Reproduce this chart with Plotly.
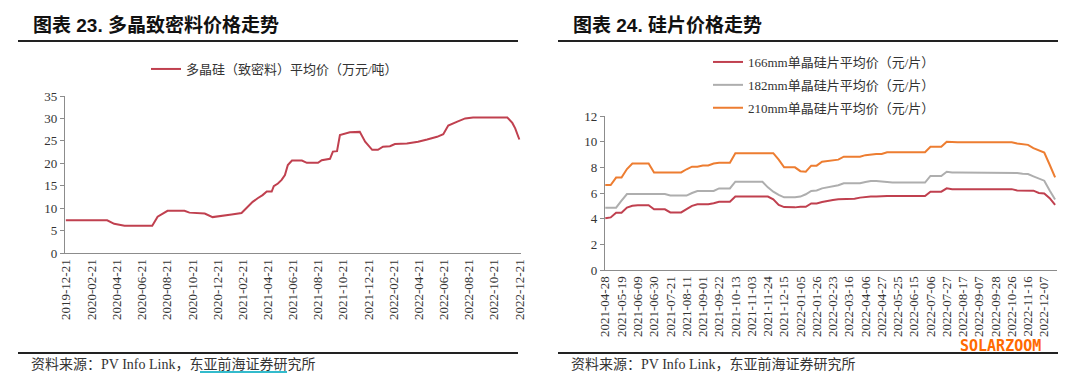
import pandas as pd
import plotly.graph_objects as go

# ---------------- Left chart data: polysilicon (dense) price, 万元/吨 ----------------
poly_dates = [
    "2019-12-20", "2020-03-29", "2020-04-15", "2020-05-10", "2020-07-16", "2020-07-29",
    "2020-08-22", "2020-10-02", "2020-10-14", "2020-11-20", "2020-12-09", "2021-01-07",
    "2021-01-24", "2021-02-17", "2021-03-04", "2021-03-16", "2021-03-28", "2021-04-09",
    "2021-04-19", "2021-05-01", "2021-05-06", "2021-05-16", "2021-05-25", "2021-06-02",
    "2021-06-09", "2021-06-19", "2021-07-13", "2021-07-25", "2021-08-21", "2021-08-30",
    "2021-09-19", "2021-09-26", "2021-10-06", "2021-10-13", "2021-11-06", "2021-11-30",
    "2021-12-13", "2021-12-30", "2022-01-13", "2022-01-25", "2022-02-11", "2022-02-23",
    "2022-03-24", "2022-04-20", "2022-05-12", "2022-06-05", "2022-06-20", "2022-07-02",
    "2022-07-24", "2022-08-12", "2022-08-31", "2022-11-22", "2022-12-04", "2022-12-11",
    "2022-12-21",
]
poly_price = [
    7.3, 7.3, 6.5, 6.1, 6.1, 8.1,
    9.4, 9.4, 9.0, 8.8, 8.0, 8.3,
    8.6, 8.9, 10.3, 11.4, 12.2, 12.9,
    13.7, 13.7, 14.9, 15.5, 16.3, 17.4,
    19.6, 20.6, 20.6, 20.1, 20.1, 20.7,
    21.0, 22.6, 22.7, 26.3, 26.9, 27.0,
    24.8, 23.0, 23.0, 23.7, 23.8, 24.3,
    24.4, 24.8, 25.3, 25.9, 26.5, 28.4,
    29.3, 30.0, 30.2, 30.2, 29.0, 27.8,
    25.3,
]
poly_ticks = [
    "2019-12-21", "2020-02-21", "2020-04-21", "2020-06-21", "2020-08-21", "2020-10-21",
    "2020-12-21", "2021-02-21", "2021-04-21", "2021-06-21", "2021-08-21", "2021-10-21",
    "2021-12-21", "2022-02-21", "2022-04-21", "2022-06-21", "2022-08-21", "2022-10-21",
    "2022-12-21",
]

# ---------------- Right chart data: wafer prices, 元/片 ----------------
skipped_weeks = ["2022-02-02", "2022-05-04", "2022-10-05"]
wafer_dates = [d.strftime("%Y-%m-%d") for d in pd.date_range("2021-04-28", "2022-12-21", freq="7D")
               if d.strftime("%Y-%m-%d") not in skipped_weeks]

w166 = [
    4.03, 4.10, 4.47, 4.47, 4.86, 5.00, 5.05, 5.05, 5.05, 4.73,
    4.73, 4.73, 4.49, 4.49, 4.49, 4.75, 5.00, 5.12, 5.12, 5.12,
    5.20, 5.32, 5.32, 5.32, 5.72, 5.72, 5.72, 5.72, 5.72, 5.72,
    5.72, 5.50, 5.07, 4.90, 4.88, 4.88, 4.93, 4.93, 5.19, 5.19,
    5.30, 5.40, 5.45, 5.51, 5.51, 5.51, 5.55, 5.64, 5.70, 5.72,
    5.72, 5.76, 5.77, 5.77, 5.77, 5.77, 5.77, 5.77, 5.77, 5.77,
    6.10, 6.10, 6.10, 6.36, 6.30, 6.30, 6.30, 6.30, 6.30, 6.30,
    6.30, 6.30, 6.30, 6.30, 6.30, 6.30, 6.20, 6.18, 6.18, 6.18,
    6.00, 5.97, 5.60, 5.07,
]
w182 = [
    4.86, 4.86, 4.86, 5.40, 5.92, 5.92, 5.92, 5.92, 5.92, 5.92,
    5.92, 5.92, 5.80, 5.80, 5.80, 5.80, 6.00, 6.16, 6.16, 6.16,
    6.16, 6.36, 6.36, 6.36, 6.88, 6.88, 6.88, 6.88, 6.88, 6.88,
    6.44, 6.10, 5.85, 5.66, 5.66, 5.66, 5.72, 5.90, 6.16, 6.20,
    6.36, 6.45, 6.55, 6.60, 6.76, 6.76, 6.76, 6.76, 6.85, 6.94,
    6.94, 6.90, 6.81, 6.81, 6.81, 6.81, 6.81, 6.81, 6.81, 6.81,
    7.33, 7.33, 7.33, 7.66, 7.60, 7.60, 7.60, 7.60, 7.60, 7.60,
    7.60, 7.60, 7.60, 7.60, 7.60, 7.60, 7.55, 7.50, 7.48, 7.30,
    7.15, 6.96, 6.20, 5.50,
]
w210 = [
    6.62, 6.62, 7.20, 7.20, 7.87, 8.30, 8.30, 8.30, 8.30, 7.60,
    7.60, 7.60, 7.60, 7.60, 7.60, 7.85, 8.05, 8.05, 8.15, 8.15,
    8.30, 8.35, 8.35, 8.35, 9.10, 9.10, 9.10, 9.10, 9.10, 9.10,
    9.10, 9.10, 8.60, 8.00, 8.00, 8.00, 7.70, 7.66, 8.13, 8.13,
    8.44, 8.48, 8.52, 8.60, 8.83, 8.83, 8.83, 8.83, 8.95, 9.01,
    9.03, 9.04, 9.17, 9.17, 9.17, 9.17, 9.17, 9.17, 9.17, 9.17,
    9.60, 9.60, 9.60, 10.00, 9.95, 9.95, 9.95, 9.95, 9.95, 9.95,
    9.95, 9.95, 9.95, 9.95, 9.95, 9.95, 9.85, 9.80, 9.75, 9.50,
    9.35, 9.15, 8.20, 7.22,
]
wafer_ticks = wafer_dates[::3]

left_yticks = [0, 5, 10, 15, 20, 25, 30, 35]
right_yticks = [0, 2, 4, 6, 8, 10, 12]

SERIF = "Liberation Serif, Noto Sans CJK SC, serif"
TEXT = "#333333"
AXIS = "#8c8c8c"

fig = go.Figure()
fig.add_trace(go.Scatter(
    x=poly_dates, y=poly_price, mode="lines", name="多晶硅（致密料）平均价（万元/吨）",
    line=dict(color="#C0404F", width=2), xaxis="x", yaxis="y", legend="legend"))
fig.add_trace(go.Scatter(
    x=wafer_dates, y=w166, mode="lines", name="166mm单晶硅片平均价（元/片）",
    line=dict(color="#C0404F", width=2), xaxis="x2", yaxis="y2", legend="legend2", legendgroup="a"))
fig.add_trace(go.Scatter(
    x=wafer_dates, y=w182, mode="lines", name="182mm单晶硅片平均价（元/片）",
    line=dict(color="#AEAEAE", width=2), xaxis="x2", yaxis="y2", legend="legend2", legendgroup="b"))
fig.add_trace(go.Scatter(
    x=wafer_dates, y=w210, mode="lines", name="210mm单晶硅片平均价（元/片）",
    line=dict(color="#ED7D31", width=2), xaxis="x2", yaxis="y2", legend="legend2", legendgroup="c"))

# The page body keeps its default 8px margin, so the figure is offset by 8px.
OFF = 8
W, H = 1080 - 2 * OFF, 381 - 2 * OFF
def px_x(p): return (p - OFF) / W
def px_y(p): return 1 - (p - OFF) / H

axis_common = dict(showgrid=False, zeroline=False, showline=True, linecolor=AXIS, linewidth=1.3,
                   automargin=False, tickfont=dict(family=SERIF, size=13, color=TEXT))

fig.update_layout(
    template="none",
    width=W, height=H, margin=dict(l=0, r=0, t=0, b=0, pad=0, autoexpand=False),
    paper_bgcolor="white", plot_bgcolor="white",
    xaxis=dict(**axis_common, type="date", domain=[px_x(65), px_x(521)],
               range=["2019-12-18", "2022-12-25"], tickvals=poly_ticks, ticktext=poly_ticks,
               tickangle=-90, ticks="", anchor="y"),
    yaxis=dict(**axis_common, domain=[px_y(253), px_y(96)], range=[0, 35], tickvals=left_yticks,
               ticks="outside", ticklen=4, tickcolor=AXIS, anchor="x"),
    xaxis2=dict(**axis_common, type="category", domain=[px_x(605), px_x(1057)],
                range=[-0.05, 83.35], tickvals=wafer_ticks, ticktext=wafer_ticks,
                tickangle=-90, ticks="", anchor="y2"),
    yaxis2=dict(**axis_common, domain=[px_y(270), px_y(116)], range=[0, 12], tickvals=right_yticks,
                ticks="outside", ticklen=4, tickcolor=AXIS, anchor="x2"),
    legend=dict(x=px_x(146), y=px_y(54), xanchor="left", yanchor="top",
                font=dict(family=SERIF, size=13, color=TEXT), bgcolor="rgba(0,0,0,0)", borderwidth=0),
    legend2=dict(x=px_x(708), y=px_y(47), xanchor="left", yanchor="top",
                 font=dict(family=SERIF, size=13, color=TEXT), bgcolor="rgba(0,0,0,0)", borderwidth=0,
                 tracegroupgap=3),
    showlegend=True,
)

TITLE_FONT = dict(family="Liberation Sans, Noto Sans CJK SC, sans-serif", size=19, color="#111111")
FOOT_FONT = dict(family=SERIF, size=14, color=TEXT)
annotations = [
    dict(text="<b>图表 23. 多晶致密料价格走势</b>", x=px_x(31), y=px_y(25), xanchor="left", yanchor="middle",
         font=TITLE_FONT),
    dict(text="<b>图表 24. 硅片价格走势</b>", x=px_x(571), y=px_y(25), xanchor="left", yanchor="middle",
         font=TITLE_FONT),
    dict(text="资料来源：PV Info Link，东亚前海证券研究所", x=px_x(29), y=px_y(364), xanchor="left",
         yanchor="middle", font=FOOT_FONT),
    dict(text="资料来源：PV Info Link，东亚前海证券研究所", x=px_x(569), y=px_y(364), xanchor="left",
         yanchor="middle", font=FOOT_FONT),
    dict(text="<b>SOLARZOOM</b>", x=px_x(1043), y=px_y(346), xanchor="right", yanchor="middle",
         font=dict(family="DejaVu Sans Mono, monospace", size=15, color="#FF6A00")),
]
for a in annotations:
    a.update(xref="paper", yref="paper", showarrow=False)
fig.update_layout(annotations=annotations)

shapes = [
    dict(type="line", x0=px_x(18), x1=px_x(518), y0=px_y(41), y1=px_y(41), line=dict(color="#222222", width=2)),
    dict(type="line", x0=px_x(558), x1=px_x(1058), y0=px_y(41), y1=px_y(41), line=dict(color="#222222", width=2)),
    dict(type="line", x0=px_x(18), x1=px_x(518), y0=px_y(353), y1=px_y(353), line=dict(color="#222222", width=2)),
    dict(type="line", x0=px_x(558), x1=px_x(1058), y0=px_y(353), y1=px_y(353), line=dict(color="#222222", width=2)),
    dict(type="line", x0=px_x(200), x1=px_x(287), y0=px_y(372), y1=px_y(372), line=dict(color="#33BBCC", width=2)),
]
for s in shapes:
    s.update(xref="paper", yref="paper")
fig.update_layout(shapes=shapes)

fig.write_html("out.html")
